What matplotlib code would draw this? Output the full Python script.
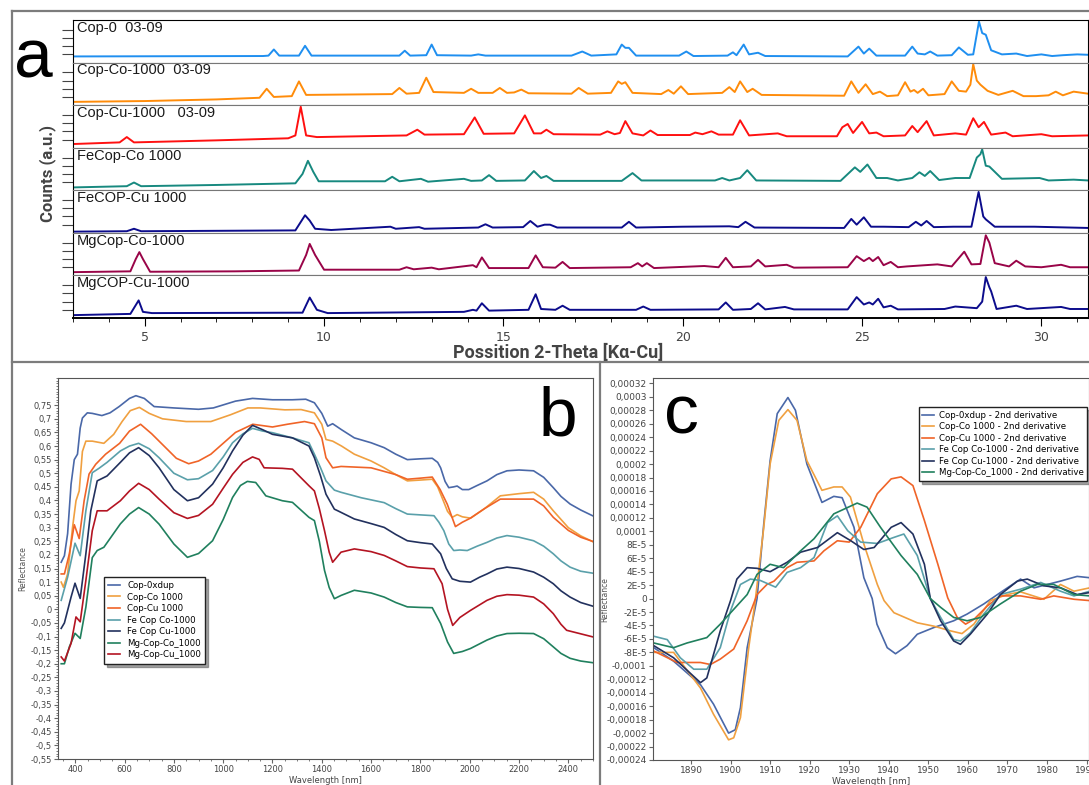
import numpy as np
import matplotlib
matplotlib.use("Agg")
import matplotlib.pyplot as plt
from matplotlib.lines import Line2D
from matplotlib.ticker import MultipleLocator, FuncFormatter

W, H = 1089, 785

# ---------------- panel a : XRD patterns (2-theta, relative intensity) ----------------
xrd_names = ["Cop-0  03-09", "Cop-Co-1000  03-09", "Cop-Cu-1000   03-09", "FeCop-Co 1000",
             "FeCOP-Cu 1000", "MgCop-Co-1000", "MgCOP-Cu-1000"]
xrd_colors = ["#1f8ff0", "#ff8c0a", "#ff1010", "#17897f", "#0c0c8c", "#990448", "#0c0c8c"]

cop0 = [(3.0, .15), (8.3, .16), (8.45, .17), (8.6, .32), (8.75, .17), (9.3, .17), (9.47, .41), (9.65, .17),
        (12.1, .17), (12.25, .29), (12.4, .17), (12.85, .18), (13.0, .44), (13.15, .18), (14.1, .17), (14.3, .2),
        (14.5, .17), (16.9, .17), (17.2, .27), (17.45, .17), (18.15, .2), (18.3, .44), (18.4, .36), (18.5, .36),
        (18.7, .17), (19.9, .17), (20.1, .27), (20.3, .16), (21.25, .17), (21.4, .25), (21.5, .18), (21.7, .44),
        (21.85, .2), (22.1, .24), (22.3, .16), (24.6, .15), (24.9, .39), (25.05, .22), (25.2, .34), (25.4, .17),
        (26.2, .17), (26.4, .39), (26.55, .22), (26.75, .2), (26.9, .27), (27.1, .17), (27.5, .18), (27.7, .37),
        (27.95, .19), (28.1, .2), (28.26, 1.0), (28.35, .72), (28.45, .68), (28.6, .3), (28.9, .2), (29.3, .22),
        (29.6, .16), (30.0, .2), (30.3, .16), (30.6, .18), (31.0, .2), (31.3, .19)]
cop_co = [(3.0, .08), (5.0, .1), (7.0, .14), (8.2, .18), (8.4, .4), (8.6, .2), (9.1, .22), (9.3, .58), (9.5, .25),
          (11.9, .27), (12.1, .42), (12.3, .28), (12.65, .3), (12.85, .67), (13.05, .32), (13.9, .3), (14.1, .4),
          (14.3, .3), (14.7, .3), (14.9, .42), (15.1, .3), (15.3, .31), (15.5, .38), (15.7, .29), (16.9, .28),
          (17.1, .42), (17.35, .28), (18.0, .3), (18.2, .58), (18.3, .52), (18.4, .56), (18.6, .3), (19.4, .27),
          (19.6, .37), (19.75, .28), (19.95, .46), (20.15, .27), (21.1, .3), (21.3, .44), (21.45, .32), (21.6, .58),
          (21.8, .32), (21.95, .4), (22.2, .25), (24.5, .23), (24.7, .58), (24.9, .3), (25.1, .51), (25.3, .27),
          (25.5, .33), (25.7, .22), (26.0, .24), (26.2, .56), (26.35, .33), (26.45, .37), (26.55, .3), (26.7, .4),
          (26.85, .24), (27.3, .27), (27.5, .58), (27.7, .35), (27.9, .33), (28.02, .5), (28.1, 1.0), (28.2, .6),
          (28.3, .5), (28.5, .35), (28.8, .25), (29.2, .35), (29.5, .22), (29.85, .22), (30.2, .24), (30.4, .33),
          (30.6, .24), (30.9, .33), (31.3, .28)]
cop_cu = [(3.0, .09), (4.3, .13), (4.5, .26), (4.7, .13), (7.0, .18), (9.0, .23), (9.2, .3), (9.35, 1.0), (9.5, .3),
          (9.8, .26), (12.3, .3), (12.6, .44), (12.8, .32), (13.9, .33), (14.2, .74), (14.45, .34), (15.3, .35),
          (15.6, .79), (15.85, .35), (16.05, .35), (16.2, .44), (16.4, .33), (17.7, .32), (17.9, .4), (18.1, .33),
          (18.25, .36), (18.4, .65), (18.6, .35), (18.9, .3), (19.1, .42), (19.3, .31), (20.2, .31), (20.35, .37),
          (20.55, .33), (20.8, .4), (21.0, .32), (21.4, .32), (21.6, .67), (21.85, .3), (22.65, .35), (22.9, .28),
          (24.3, .28), (24.45, .5), (24.6, .58), (24.75, .36), (25.0, .63), (25.2, .35), (25.4, .37), (25.6, .28),
          (26.2, .3), (26.4, .53), (26.55, .38), (26.8, .65), (27.0, .3), (27.6, .35), (27.9, .32), (28.1, .72),
          (28.25, .5), (28.4, .63), (28.6, .32), (29.0, .37), (29.2, .28), (30.0, .33), (30.3, .28), (31.3, .3)]
fecop_co = [(3.0, .07), (4.5, .1), (4.7, .19), (4.9, .1), (7.0, .13), (9.2, .17), (9.4, .4), (9.55, .72), (9.7, .45),
            (9.85, .22), (11.7, .22), (11.9, .33), (12.1, .22), (12.7, .28), (12.9, .21), (13.9, .28), (14.1, .23),
            (14.4, .24), (14.6, .37), (14.8, .23), (15.6, .24), (15.85, .47), (16.05, .3), (16.2, .35), (16.4, .23),
            (18.3, .23), (18.6, .42), (18.85, .24), (20.9, .24), (21.1, .3), (21.3, .24), (21.6, .3), (21.8, .49),
            (22.05, .24), (24.4, .23), (24.8, .56), (24.95, .45), (25.15, .63), (25.4, .3), (25.7, .3), (26.0, .24),
            (26.4, .3), (26.6, .44), (26.75, .35), (26.9, .47), (27.15, .25), (27.6, .3), (28.0, .3), (28.2, .8),
            (28.3, .88), (28.35, 1.0), (28.45, .6), (28.55, .58), (28.9, .28), (29.95, .3), (30.2, .24), (30.9, .26),
            (31.3, .24)]
fecop_cu = [(3.0, .03), (4.5, .04), (4.7, .1), (4.9, .04), (9.2, .06), (9.47, .43), (9.6, .3), (9.75, .1), (10.2, .07),
            (11.85, .15), (12.0, .1), (12.65, .14), (12.8, .1), (14.3, .13), (14.5, .21), (14.7, .13), (15.55, .14),
            (15.75, .29), (15.95, .15), (16.15, .2), (16.3, .2), (16.5, .13), (18.3, .13), (18.5, .27), (18.7, .13),
            (20.0, .15), (21.3, .16), (21.55, .14), (21.75, .27), (22.0, .13), (24.5, .12), (24.7, .34), (24.85, .2),
            (25.05, .38), (25.25, .15), (25.6, .15), (26.3, .14), (26.5, .27), (26.65, .18), (26.8, .29), (27.0, .14),
            (27.55, .15), (28.05, .15), (28.25, 1.0), (28.38, .4), (28.45, .33), (28.7, .15), (29.8, .15), (31.3, .12)]
mgcop_co = [(3.0, .08), (4.6, .1), (4.75, .4), (4.85, .57), (4.95, .4), (5.15, .09), (7.5, .1), (9.3, .12), (9.5, .5),
            (9.6, .77), (9.75, .5), (10.0, .14), (12.1, .14), (12.3, .2), (12.5, .15), (13.0, .19), (13.2, .15),
            (14.15, .25), (14.25, .2), (14.4, .44), (14.6, .18), (15.7, .18), (15.9, .49), (16.1, .2), (16.45, .19),
            (16.65, .33), (16.85, .18), (18.55, .2), (18.75, .3), (18.87, .22), (19.0, .3), (19.2, .18), (20.6, .23),
            (21.0, .2), (21.2, .43), (21.4, .2), (21.9, .22), (22.1, .38), (22.3, .22), (22.9, .26), (23.1, .19),
            (24.6, .2), (24.85, .47), (25.05, .35), (25.2, .43), (25.3, .35), (25.45, .45), (25.6, .25), (25.8, .33),
            (26.0, .2), (26.25, .22), (27.1, .27), (27.5, .22), (27.85, .58), (28.05, .27), (28.3, .28), (28.45, .98),
            (28.55, .8), (28.7, .3), (29.1, .22), (29.3, .36), (29.55, .22), (30.0, .2), (30.55, .26), (30.8, .2),
            (31.3, .2)]
mgcop_cu = [(3.0, .07), (4.6, .1), (4.83, .43), (4.95, .15), (5.2, .12), (9.4, .13), (9.6, .5), (9.8, .2), (10.1, .12),
            (13.9, .15), (14.15, .2), (14.25, .18), (14.4, .36), (14.6, .18), (15.7, .2), (15.9, .58), (16.05, .22),
            (16.45, .2), (16.65, .3), (16.85, .2), (18.7, .2), (18.9, .28), (19.1, .2), (21.0, .21), (21.2, .38),
            (21.4, .2), (21.9, .22), (22.1, .36), (22.3, .21), (22.85, .27), (23.1, .21), (24.6, .21), (24.85, .51),
            (25.05, .33), (25.2, .38), (25.3, .33), (25.45, .47), (25.6, .26), (25.8, .3), (26.0, .21), (27.3, .22),
            (27.6, .28), (28.2, .24), (28.35, .4), (28.45, 1.0), (28.55, .75), (28.6, .65), (28.75, .22), (29.3, .3),
            (29.6, .22), (30.55, .27), (30.8, .22), (31.3, .22)]
xrd_data = [cop0, cop_co, cop_cu, fecop_co, fecop_cu, mgcop_co, mgcop_cu]

# ---------------- panel b : NIR reflectance (wavelength nm, reflectance) ----------------
nir_names = ["Cop-0xdup", "Cop-Co 1000", "Cop-Cu 1000", "Fe Cop Co-1000", "Fe Cop Cu-1000",
             "Mg-Cop-Co_1000", "Mg-Cop-Cu_1000"]
nir_colors = ["#4a68a8", "#f0a040", "#f06428", "#5aa0aa", "#22315e", "#20805e", "#b41422"]

nir_cop0 = [(343, .173), (356, .197), (369, .278), (383, .46), (396, .55), (409, .57), (420, .666), (429, .703),
            (449, .722), (469, .72), (508, .712), (541, .722), (578, .745), (620, .775), (646, .785), (680, .775),
            (720, .745), (800, .74), (900, .735), (960, .74), (1050, .765), (1119, .775), (1200, .77),
            (1280, .77), (1335, .772), (1370, .759), (1400, .72), (1424, .673), (1444, .682), (1480, .66),
            (1532, .63), (1600, .612), (1653, .594), (1700, .57), (1747, .55), (1800, .553), (1848, .555),
            (1870, .54), (1882, .52), (1900, .47), (1915, .447), (1935, .45), (1949, .453), (1970, .44),
            (1996, .44), (2030, .455), (2070, .472), (2110, .495), (2151, .509), (2200, .512), (2259, .509),
            (2300, .485), (2339, .447), (2370, .415), (2407, .387), (2450, .365), (2498, .344)]
nir_copco = [(343, .1), (352, .081), (369, .13), (389, .301), (403, .399), (416, .435), (429, .58), (443, .618),
             (469, .618), (516, .61), (556, .643), (590, .69), (623, .73), (660, .742), (700, .72), (754, .7),
             (850, .69), (950, .69), (1030, .715), (1100, .74), (1150, .74), (1250, .733), (1316, .734),
             (1370, .722), (1400, .68), (1417, .624), (1444, .618), (1480, .6), (1532, .57), (1600, .545),
             (1653, .52), (1700, .495), (1747, .472), (1800, .475), (1848, .478), (1870, .45), (1888, .41),
             (1910, .36), (1929, .338), (1949, .348), (1970, .34), (2003, .335), (2060, .37), (2124, .417),
             (2200, .425), (2259, .43), (2300, .405), (2339, .362), (2400, .3), (2450, .27), (2498, .249)]
nir_copcu = [(343, .13), (356, .13), (376, .204), (396, .311), (416, .26), (436, .399), (456, .497), (483, .533),
             (523, .57), (580, .61), (620, .655), (665, .68), (710, .645), (760, .6), (810, .555), (860, .535),
             (900, .545), (950, .57), (1000, .61), (1050, .65), (1120, .68), (1200, .67), (1260, .68),
             (1330, .69), (1370, .682), (1400, .63), (1417, .557), (1444, .52), (1478, .525), (1600, .52),
             (1700, .495), (1747, .478), (1800, .482), (1848, .486), (1880, .44), (1909, .386), (1942, .304),
             (1970, .32), (2003, .335), (2060, .37), (2124, .405), (2200, .405), (2259, .405), (2300, .38),
             (2339, .338), (2400, .29), (2450, .265), (2498, .25)]
nir_fecopco = [(343, .033), (369, .118), (399, .243), (420, .197), (443, .362), (469, .502), (496, .518),
               (529, .54), (583, .582), (620, .6), (657, .61), (700, .59), (740, .557), (800, .5), (855, .476),
               (900, .48), (957, .51), (1000, .56), (1038, .612), (1080, .645), (1119, .665), (1160, .655),
               (1200, .649), (1281, .63), (1348, .612), (1370, .57), (1395, .52), (1417, .472), (1451, .438),
               (1478, .43), (1560, .41), (1653, .392), (1700, .37), (1747, .35), (1800, .347), (1855, .344),
               (1875, .32), (1895, .289), (1915, .24), (1935, .216), (1960, .218), (1990, .216), (2030, .232),
               (2070, .246), (2110, .262), (2151, .271), (2200, .265), (2259, .252), (2300, .232), (2339, .204),
               (2370, .178), (2407, .155), (2450, .14), (2498, .133)]
nir_fecopcu = [(343, -.07), (356, -.05), (383, .045), (399, .096), (420, .04), (443, .204), (463, .362),
               (489, .472), (529, .49), (583, .54), (620, .575), (657, .594), (700, .565), (740, .52), (800, .44),
               (855, .399), (900, .41), (957, .46), (1000, .52), (1038, .582), (1080, .64), (1119, .676),
               (1160, .66), (1200, .643), (1281, .63), (1348, .6), (1370, .557), (1395, .49), (1417, .423),
               (1451, .368), (1465, .362), (1532, .332), (1600, .315), (1653, .301), (1700, .275), (1747, .252),
               (1800, .245), (1848, .24), (1882, .204), (1905, .15), (1929, .112), (1960, .103), (2003, .1),
               (2040, .118), (2070, .13), (2110, .148), (2151, .155), (2200, .15), (2259, .137), (2300, .118),
               (2339, .094), (2370, .068), (2407, .045), (2450, .025), (2498, .012)]
nir_mgcopco = [(343, -.2), (356, -.2), (376, -.138), (399, -.088), (420, -.107), (443, .008), (469, .19),
               (489, .216), (516, .228), (583, .314), (620, .35), (657, .374), (700, .35), (740, .313),
               (800, .24), (855, .191), (900, .205), (957, .252), (1000, .33), (1038, .411), (1070, .455),
               (1098, .47), (1132, .466), (1150, .445), (1173, .417), (1240, .399), (1281, .393), (1348, .338),
               (1370, .326), (1390, .25), (1411, .143), (1430, .08), (1451, .039), (1478, .051), (1532, .07),
               (1600, .06), (1653, .045), (1700, .025), (1747, .009), (1800, .007), (1848, .006), (1882, -.052),
               (1910, -.12), (1935, -.162), (1970, -.155), (2003, -.144), (2070, -.113), (2110, -.098),
               (2151, -.089), (2200, -.088), (2259, -.089), (2300, -.108), (2339, -.138), (2370, -.162),
               (2407, -.18), (2450, -.19), (2498, -.196)]
nir_mgcopcu = [(343, -.175), (356, -.19), (383, -.125), (403, -.028), (420, -.046), (443, .106), (469, .289),
               (489, .362), (529, .362), (583, .399), (620, .435), (657, .463), (700, .44), (740, .405),
               (800, .355), (855, .334), (900, .345), (957, .386), (1000, .445), (1038, .496), (1080, .54),
               (1119, .56), (1146, .551), (1166, .52), (1240, .518), (1281, .515), (1348, .454), (1370, .435),
               (1390, .37), (1411, .289), (1430, .21), (1444, .173), (1478, .21), (1532, .222), (1600, .212),
               (1653, .198), (1700, .178), (1747, .157), (1800, .152), (1855, .149), (1888, .094), (1910, .0),
               (1931, -.059), (1960, -.03), (2003, -.004), (2070, .033), (2110, .048), (2151, .054), (2200, .052),
               (2259, .045), (2300, .02), (2339, -.016), (2370, -.055), (2393, -.077), (2450, -.09), (2498, -.101)]
nir_data = [nir_cop0, nir_copco, nir_copcu, nir_fecopco, nir_fecopcu, nir_mgcopco, nir_mgcopcu]

# ---------------- panel c : 2nd derivative (wavelength nm, value) ----------------
der_names = [n + " - 2nd derivative" for n in nir_names[:6]]
der_colors = nir_colors[:6]

der_cop0 = [(1880.6, -7.3e-5), (1885.6, -9.3e-5), (1892.4, -12.8e-5), (1895.7, -15.7e-5), (1899.5, -20e-5),
            (1901.2, -19.5e-5), (1902.5, -16.2e-5), (1904.2, -7.3e-5), (1906.7, 0), (1908.4, 11.1e-5),
            (1910.0, 20.5e-5), (1911.8, 27.5e-5), (1914.5, 29.9e-5), (1916.4, 28e-5), (1919.3, 20e-5),
            (1923.1, 14.3e-5), (1926.1, 15.2e-5), (1928.2, 15e-5), (1931.2, 10.6e-5), (1933.7, 3.1e-5),
            (1935.8, 0), (1937.0, -3.8e-5), (1939.6, -7.3e-5), (1941.7, -8.2e-5), (1944.6, -7e-5),
            (1947.2, -5.3e-5), (1951.4, -4.3e-5), (1956.4, -3.3e-5), (1959.8, -2.3e-5), (1964.0, -0.8e-5),
            (1968.2, 0.9e-5), (1973.3, 2.9e-5), (1976.7, 1.6e-5), (1983.4, 2.6e-5), (1987.6, 3.3e-5),
            (1990.8, 3.1e-5)]
der_copco = [(1880.6, -8e-5), (1885.6, -8e-5), (1892.4, -13.3e-5), (1895.7, -17.2e-5), (1899.5, -21e-5),
             (1900.8, -20.7e-5), (1902.5, -17.7e-5), (1904.6, -7.3e-5), (1906.3, 0), (1908.4, 10.6e-5),
             (1910.0, 20e-5), (1912.2, 26.5e-5), (1914.5, 28.1e-5), (1916.8, 26.5e-5), (1919.3, 20.5e-5),
             (1923.1, 16.1e-5), (1926.1, 16.6e-5), (1928.2, 16.6e-5), (1930.3, 15.1e-5), (1933.7, 8.1e-5),
             (1937.1, 2.1e-5), (1938.8, -0.3e-5), (1941.3, -2.1e-5), (1947.2, -3.6e-5), (1951.4, -4.1e-5),
             (1955.6, -4.8e-5), (1958.5, -5.2e-5), (1961.5, -3.8e-5), (1965.7, -0.3e-5), (1969.9, 0.6e-5),
             (1973.3, 1e-5), (1979.2, -0.1e-5), (1983.4, 2.1e-5), (1986.8, 1.1e-5), (1990.8, 1.6e-5)]
der_copcu = [(1880.6, -7.8e-5), (1886.5, -9.5e-5), (1892.4, -9.5e-5), (1894.9, -9.8e-5), (1897.4, -9e-5),
             (1900.8, -7.5e-5), (1904.2, -3.3e-5), (1906.7, 0.6e-5), (1909.2, 2.1e-5), (1911.0, 2.6e-5),
             (1914.3, 4.6e-5), (1916.8, 5.4e-5), (1921.1, 5.6e-5), (1923.6, 7.1e-5), (1927.0, 8.6e-5),
             (1930.0, 8.4e-5), (1932.9, 10.6e-5), (1937.1, 15.6e-5), (1940.6, 17.8e-5), (1943.1, 18.1e-5),
             (1946.1, 16.8e-5), (1949.0, 11.6e-5), (1952.4, 5.1e-5), (1954.9, 0.1e-5), (1957.3, -2.8e-5),
             (1959.4, -3.8e-5), (1961.5, -3.1e-5), (1964.9, -1.1e-5), (1968.2, 0.4e-5), (1973.3, 0.4e-5),
             (1978.4, -0.1e-5), (1981.7, 0.4e-5), (1986.8, -0.1e-5), (1990.8, -0.3e-5)]
der_fecopco = [(1880.6, -5.6e-5), (1884.0, -6.1e-5), (1887.3, -8.8e-5), (1890.7, -10.5e-5), (1894.0, -10.5e-5),
               (1897.4, -7.3e-5), (1900.0, -1.8e-5), (1902.5, 2.1e-5), (1905.0, 2.9e-5), (1907.5, 2.7e-5),
               (1911.4, 1.7e-5), (1914.3, 3.9e-5), (1917.7, 4.6e-5), (1921.1, 6.1e-5), (1924.5, 11.3e-5),
               (1927.0, 12.3e-5), (1929.6, 10.1e-5), (1932.9, 8.4e-5), (1937.1, 8.2e-5), (1941.3, 9.1e-5),
               (1943.8, 9.6e-5), (1947.2, 6.4e-5), (1950.5, 0), (1953.1, -2.8e-5), (1956.4, -6.1e-5),
               (1958.1, -6.3e-5), (1960.6, -5.1e-5), (1964.0, -2.3e-5), (1968.2, 0.6e-5), (1973.3, 1.4e-5),
               (1978.4, 2.4e-5), (1983.4, 1.1e-5), (1986.8, 0.4e-5), (1990.8, 1.1e-5)]
der_fecopcu = [(1880.6, -7e-5), (1885.6, -8.8e-5), (1892.4, -12.5e-5), (1894.0, -11.8e-5), (1897.4, -4.8e-5),
               (1900.0, -0.3e-5), (1901.6, 2.9e-5), (1904.2, 4.6e-5), (1906.7, 4.5e-5), (1910.0, 4e-5),
               (1914.3, 5.4e-5), (1917.7, 6.9e-5), (1922.0, 7.6e-5), (1927.0, 9.8e-5), (1930.4, 8.6e-5),
               (1933.7, 7.3e-5), (1936.3, 7.6e-5), (1940.6, 10.6e-5), (1943.1, 11.3e-5), (1946.1, 9.6e-5),
               (1949.0, 5.1e-5), (1950.5, 0), (1953.1, -3.3e-5), (1956.4, -6.3e-5), (1958.1, -6.8e-5),
               (1960.6, -5.3e-5), (1964.9, -2.3e-5), (1968.2, 0.6e-5), (1972.5, 2.6e-5), (1975.0, 2.9e-5),
               (1979.2, 1.9e-5), (1983.4, 1.6e-5), (1987.6, 0.6e-5), (1990.8, 0.9e-5)]
der_mgcopco = [(1880.6, -6.6e-5), (1885.6, -7.3e-5), (1889.0, -6.6e-5), (1894.0, -5.8e-5), (1897.4, -3.8e-5),
               (1900.8, -1.6e-5), (1904.2, 0.6e-5), (1906.7, 3.6e-5), (1910.0, 5.1e-5), (1913.4, 4.6e-5),
               (1917.7, 7.1e-5), (1921.1, 8.9e-5), (1926.1, 12.6e-5), (1932.0, 14.2e-5), (1934.5, 13.6e-5),
               (1937.9, 10.6e-5), (1943.1, 6.4e-5), (1947.2, 3.6e-5), (1950.5, 0), (1953.1, -1.3e-5),
               (1956.4, -2.8e-5), (1959.8, -3.3e-5), (1963.2, -2.8e-5), (1968.2, -0.8e-5), (1973.3, 1.1e-5),
               (1977.5, 2.1e-5), (1981.7, 2.1e-5), (1986.8, 0.6e-5), (1990.8, 0.4e-5)]
der_data = [der_cop0, der_copco, der_copcu, der_fecopco, der_fecopcu, der_mgcopco]


def rect(x0, y0, x1, y1):
    # pixel box (left, top, right, bottom) -> figure fraction
    return [x0 / W, 1 - y1 / H, (x1 - x0) / W, (y1 - y0) / H]


fig = plt.figure(figsize=(W / 100, H / 100), dpi=100)
fig.patch.set_facecolor("white")

# frame lines around the panels
gray = "#7c7c7c"
for xs, ys in [((12, W), (11, 11)), ((12, 12), (11, H)), ((12, W), (362, 362)), ((600, 600), (362, H))]:
    fig.add_artist(Line2D([x / W for x in xs], [1 - y / H for y in ys], color=gray, lw=1.6))

# ---------------- panel a ----------------
top, bot = 20, 318
step = (bot - top) / len(xrd_data)
for i, (pts, name, col) in enumerate(zip(xrd_data, xrd_names, xrd_colors)):
    ax = fig.add_axes(rect(73, top + i * step, 1088, top + (i + 1) * step))
    arr = np.array(pts)
    ax.plot(arr[:, 0], arr[:, 1], color=col, lw=1.4)
    ax.set_xlim(3.0, 31.3)
    ax.set_ylim(0, 1.04)
    ax.text(0.004, 0.98, name, transform=ax.transAxes, ha="left", va="top",
            fontsize=10.5, family="Liberation Sans", color="#1a1a1a")
    ax.set_yticks([0.2, 0.4, 0.6, 0.8])
    ax.tick_params(axis="y", length=8, width=0.8, color="#444", labelleft=False)
    for s in ["top", "bottom"]:
        ax.spines[s].set_color("#777")
    ax.spines["left"].set_color("black")
    ax.spines["right"].set_color("black")
    if i == 0:
        ax.spines["top"].set_color("black")
    if i == len(xrd_data) - 1:
        ax.spines["bottom"].set_color("black")
        ax.spines["bottom"].set_linewidth(1.4)
        ax.xaxis.set_major_locator(MultipleLocator(5))
        ax.xaxis.set_minor_locator(MultipleLocator(1))
        ax.tick_params(axis="x", which="major", length=6, labelsize=9, labelcolor="#444")
        ax.tick_params(axis="x", which="minor", length=3)
        ax.set_xlabel("Possition 2-Theta [Kα-Cu]", family="Roboto", fontweight="bold",
                      fontsize=13, color="#444", labelpad=0)
        ax.xaxis.set_label_coords(0.478, -0.6)
    else:
        ax.set_xticks([])

fig.text(48 / W, 1 - 174 / H, "Counts (a.u.)", rotation=90, ha="center", va="center",
         family="Roboto", fontweight="bold", fontsize=12, color="#444")
fig.text(33 / W, 1 - 78 / H, "a", ha="center", va="baseline", family="Liberation Sans", fontsize=50)

# ---------------- panel b ----------------
axb = fig.add_axes(rect(58, 378, 593, 759))
for pts, name, col in zip(nir_data, nir_names, nir_colors):
    arr = np.array(pts)
    axb.plot(arr[:, 0], arr[:, 1], color=col, lw=1.2, label=name)
axb.set_xlim(330, 2500)
axb.set_ylim(-0.55, 0.85)
axb.set_yticks(np.round(np.arange(-0.55, 0.76, 0.05), 2))
axb.yaxis.set_minor_locator(MultipleLocator(0.01))
axb.xaxis.set_major_locator(MultipleLocator(200))
axb.xaxis.set_minor_locator(MultipleLocator(50))
axb.yaxis.set_major_formatter(FuncFormatter(lambda v, p: ("%g" % round(v, 2)).replace(".", ",")))
axb.tick_params(which="both", labelsize=6, labelcolor="#444", color="#666", length=3, pad=1.5)
axb.tick_params(which="minor", length=1.5)
for s in axb.spines.values():
    s.set_color("#555")
axb.set_ylabel("Reflectance", fontsize=5.5, color="#555")
axb.yaxis.set_label_coords(-0.058, 0.5)
axb.set_xlabel("Wavelength [nm]", fontsize=6, color="#444", labelpad=1)
axb.legend(loc="upper left", bbox_to_anchor=(0.078, 0.49), fontsize=6.2, frameon=True, shadow=True,
           fancybox=False, edgecolor="#222", handlelength=1.4, borderpad=0.5, labelspacing=0.3)
axb.text(0.97, 0.85, "b", transform=axb.transAxes, ha="right", va="baseline",
         family="Liberation Sans", fontsize=50)

# ---------------- panel c ----------------
axc = fig.add_axes(rect(653, 378, 1089, 760))
for pts, name, col in zip(der_data, der_names, der_colors):
    arr = np.array(pts)
    axc.plot(arr[:, 0], arr[:, 1], color=col, lw=1.2, label=name)
axc.set_xlim(1880.4, 1990.6)
axc.set_ylim(-0.00024, 0.000328)
axc.set_yticks(np.arange(-12, 17) * 2e-5)
axc.xaxis.set_major_locator(MultipleLocator(10))


def fmt_c(v, p):
    if abs(v) < 1e-9:
        return "0"
    if abs(v) < 0.99e-4:
        return "%dE-5" % round(v * 1e5)
    return ("%g" % round(v, 5)).replace(".", ",")


axc.yaxis.set_major_formatter(FuncFormatter(fmt_c))
axc.tick_params(labelsize=6.5, labelcolor="#444", color="#666", length=3, pad=1.5)
for s in axc.spines.values():
    s.set_color("#555")
axc.set_ylabel("Reflectance", fontsize=5.5, color="#555")
axc.yaxis.set_label_coords(-0.1, 0.42)
axc.set_xlabel("Wavelength [nm]", fontsize=6.5, color="#444", labelpad=1)
axc.legend(loc="upper left", bbox_to_anchor=(0.6, 0.935), fontsize=6.2, frameon=True, shadow=True,
           fancybox=False, edgecolor="#222", handlelength=1.3, borderpad=0.4, labelspacing=0.3,
           handletextpad=0.6)
axc.text(0.025, 0.855, "c", transform=axc.transAxes, ha="left", va="baseline",
         family="Liberation Sans", fontsize=50)

fig.savefig("out.png", dpi=100)
